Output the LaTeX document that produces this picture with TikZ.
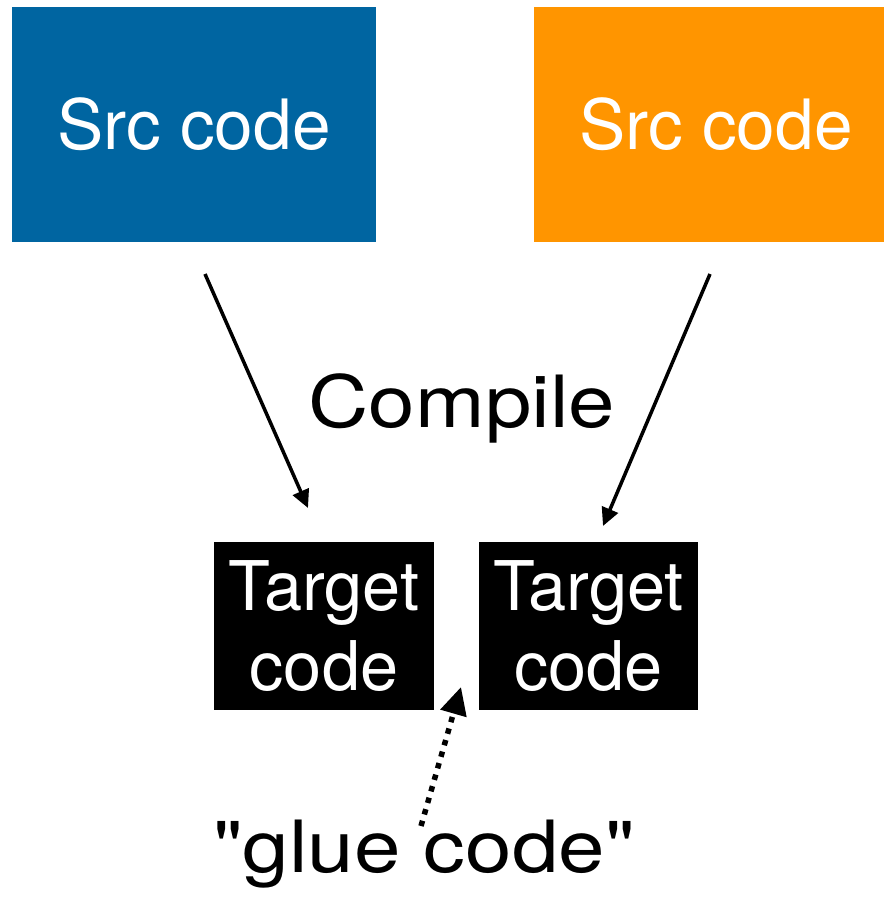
\documentclass[tikz,border=0pt]{standalone}
\usepackage{fontspec}
\setmainfont{TeX Gyre Heros}
\newfontfamily\widefont[FakeStretch=1.16]{TeX Gyre Heros}
\usetikzlibrary{arrows.meta}
\definecolor{srcblue}{RGB}{0,101,161}
\definecolor{srcorange}{RGB}{255,149,0}
\begin{document}
\begin{tikzpicture}[
        x=0.02cm, y=-0.02cm,
        srcbox/.style={rectangle, minimum height=4.7cm, text=white, font=\fontsize{39.5}{44}\selectfont},
        targetbox/.style={rectangle, fill=black, text=white, align=center, minimum width=4.4cm, minimum height=3.36cm, inner sep=0pt, font=\fontsize{39}{45.5}\selectfont},
        label/.style={font=\widefont\fontsize{41}{46}\selectfont},
        compile/.style={-{Triangle[length=0.36cm,width=0.34cm]}, line width=2pt},
        glue/.style={-{Triangle[length=0.55cm,width=0.52cm]}, line width=0.11cm, dash pattern=on 0.11cm off 0.13cm},
    ]
    \useasboundingbox (0,0) rectangle (884,899);

    % sources
    \node[srcbox, fill=srcblue, minimum width=7.28cm](srcA) at (194,124.5){Src code};
    \node[srcbox, fill=srcorange, minimum width=7cm](srcB) at (709,124.5){\hspace{0.28cm}Src code};

    % compiled output
    \node[targetbox](tgtA) at (324,626){Target\\code};
    \node[targetbox](tgtB) at (588.5,626){Target\\code};

    \node[label](compileLbl) at (462,408){Compile};
    \node[label, anchor=base](glueLbl) at (424,872){"glue code"};

    % arrow ends
    \coordinate (a1) at (205,274);
    \coordinate (a1tip) at (308,508);
    \coordinate (a2) at (710,274);
    \coordinate (a2tip) at (603,526);
    \coordinate (g1) at (421,826);
    \coordinate (g1tip) at (461,687);

    \draw[compile] (a1) -- (a1tip);
    \draw[compile] (a2) -- (a2tip);
    \draw[glue] (g1) -- (g1tip);
    \end{tikzpicture}
\end{document}
